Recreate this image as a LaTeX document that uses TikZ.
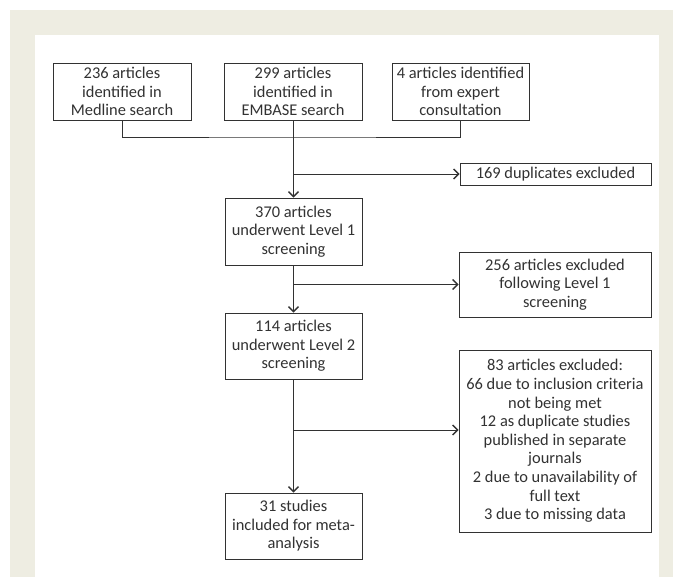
\documentclass[tikz,border=0pt]{standalone}
\usepackage{fontspec}
\setmainfont{Carlito}
\usetikzlibrary{arrows.meta}
\definecolor{framebeige}{RGB}{238,237,226}
\definecolor{inkgray}{RGB}{50,50,50}
\tikzset{
    >={Straight Barb[length=5pt,width=10pt,line width=1.3pt]}, % chevron heads
    box/.style={draw=inkgray, line width=0.9pt, text=inkgray, align=center,
                font=\fontsize{16.4}{18.6}\selectfont, inner sep=0pt}, % every box of the chart
    line/.style={draw=inkgray, line width=0.9pt},
}
\begin{document}
\begin{tikzpicture}[x=1pt, y=-1pt]
    % frame and panel
    \useasboundingbox (0,0) rectangle (673,577);
    \fill[framebeige] (10,10) rectangle (673,577);
    \fill[white] (35,35) rectangle (659,577);

    % sources
    \node[box, minimum width=138pt, minimum height=57pt] (medline) at (122,91.5) {236 articles\\identified in\\Medline search};
    \node[box, minimum width=138pt, minimum height=57pt] (embase) at (293,91.5) {299 articles\\identified in\\EMBASE search};
    \node[box, minimum width=137pt, minimum height=57pt] (expert) at (460.5,91.5) {4 articles identified\\from expert\\consultation};

    % main column
    \node[box, minimum width=137pt, minimum height=67pt] (lvlone) at (293.5,231.5) {370 articles\\underwent Level 1\\screening};
    \node[box, minimum width=137pt, minimum height=66pt] (lvltwo) at (293.5,346) {114 articles\\underwent Level 2\\screening};
    \node[box, minimum width=137pt, minimum height=66pt] (final) at (293.5,526) {31 studies\\included for meta-\\analysis};

    % exclusions
    \node[box, minimum width=191pt, minimum height=22pt] (dupl) at (555.5,174) {169 duplicates excluded};
    \node[box, minimum width=192pt, minimum height=65pt] (exone) at (555,284.5) {256 articles excluded\\following Level 1\\screening};
    \node[box, minimum width=192pt, minimum height=182pt] (extwo) at (555,441) {83 articles excluded:\\66 due to inclusion criteria\\not being met\\12 as duplicate studies\\published in separate\\journals\\2 due to unavailability of\\full text\\3 due to missing data};

    \coordinate (join) at (293.5,137);
    \coordinate (split) at (293.5,430);

    \draw[line] (medline.south) |- (join) -| (expert.south);
    \draw[line, ->] (embase.south -| join) -- (lvlone.north);
    \draw[line, ->] (dupl.west -| join) -- (dupl.west);
    \draw[line, ->] (lvlone) -- (lvltwo);
    \draw[line, ->] (exone.west -| lvlone.south) -- (exone.west);
    \draw[line, ->] (lvltwo) -- (final);
    \draw[line, ->] (split) -- (split -| extwo.west);
\end{tikzpicture}
\end{document}
